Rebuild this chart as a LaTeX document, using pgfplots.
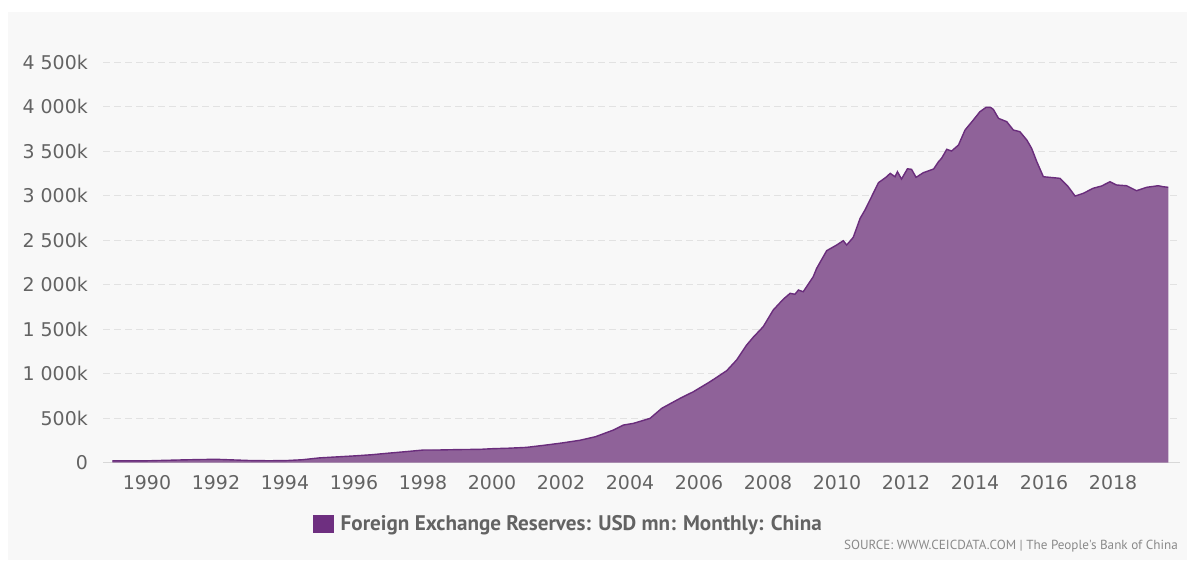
\documentclass[border=0pt]{standalone}
\usepackage{pgfplots}
\pgfplotsset{compat=1.18}
\usepackage{pgfplotstable}
\usepackage{fontspec}
\setmainfont{DejaVu Sans}
\newfontfamily\legfont{PT Sans}
\definecolor{bgpanel}{HTML}{F8F8F8}
\definecolor{gridgray}{HTML}{E2E2E2}
\definecolor{axisgray}{HTML}{D8D8D8}
\definecolor{tickgray}{HTML}{636363}
\definecolor{srcgray}{HTML}{8A8A8A}
\definecolor{fillpurple}{HTML}{8F6299}
\definecolor{linepurple}{HTML}{6A2D7C}
\definecolor{legendpurple}{HTML}{6E2F80}

\pgfplotstableread{
yr val
1989.00 18
1989.50 19
1990.00 19
1990.50 24
1991.00 29
1991.50 33
1992.00 36
1992.50 29
1993.00 22
1993.50 20
1994.00 21
1994.50 31
1995.00 52
1995.50 63
1996.00 74
1996.50 87
1997.00 105
1997.50 122
1998.00 140
1998.50 141
1999.00 145
1999.65 148
2000.00 155
2000.50 161
2001.00 170
2001.58 197
2002.00 218
2002.55 250
2003.00 290
2003.52 365
2003.81 421
2004.10 440
2004.58 496
2004.92 609
2005.45 721
2005.84 796
2006.32 908
2006.80 1031
2007.09 1152
2007.38 1320
2007.57 1407
2007.86 1526
2008.15 1713
2008.44 1834
2008.64 1901
2008.78 1890
2008.88 1938
2009.02 1919
2009.31 2088
2009.41 2182
2009.70 2380
2009.99 2444
2010.18 2492
2010.28 2444
2010.47 2530
2010.67 2744
2010.81 2837
2011.00 2986
2011.20 3144
2011.44 3211
2011.54 3249
2011.68 3211
2011.75 3267
2011.87 3185
2012.04 3300
2012.16 3294
2012.29 3204
2012.50 3256
2012.80 3298
2012.94 3380
2013.03 3418
2013.18 3519
2013.32 3500
2013.52 3567
2013.71 3736
2013.95 3848
2014.14 3941
2014.32 3991
2014.45 3990
2014.53 3968
2014.68 3867
2014.92 3829
2015.11 3736
2015.30 3717
2015.50 3624
2015.64 3530
2015.79 3380
2015.98 3211
2016.17 3204
2016.46 3193
2016.70 3099
2016.90 2994
2017.14 3025
2017.42 3081
2017.67 3107
2017.91 3155
2018.10 3118
2018.39 3110
2018.68 3054
2018.97 3092
2019.31 3110
2019.45 3099
2019.60 3092
}\reserves

\begin{document}
\begin{tikzpicture}[x=1bp,y=1bp]
\fill[white] (0,0) rectangle (1194,-565);
\fill[bgpanel] (8,-12) rectangle (1187,-560);
\begin{axis}[
  at={(103bp,-462.5bp)}, anchor=south west,
  width=1077bp, height=400.5bp, scale only axis,
  xmin=1988.725, xmax=2019.94, ymin=0, ymax=4500,
  axis x line*=bottom, axis y line*=left,
  x axis line style={draw=axisgray, line width=1bp},
  y axis line style={draw=none},
  major tick length=0pt,
  ytick={0,500,...,4500},
  yticklabels={0,500k,1 000k,1 500k,2 000k,2 500k,3 000k,3 500k,4 000k,4 500k},
  xtick={1990,1992,...,2018},
  xticklabels={1990,1992,1994,1996,1998,2000,2002,2004,2006,2008,2010,2012,2014,2016,2018},
  ymajorgrids,
  grid style={gridgray, line width=1bp, dash pattern=on 7bp off 4bp},
  tick label style={font=\fontsize{19}{19}\selectfont, text=tickgray},
  yticklabel style={anchor=east, inner sep=0pt, xshift=-15bp},
  xticklabel style={anchor=north, inner sep=0pt, yshift=-13bp},
  legend style={at={(0.432,-0.1536)}, anchor=center, draw=none, fill=none,
    font=\legfont\bfseries\fontsize{21.2}{21.2}\selectfont, text=tickgray,
    inner sep=0pt, cells={anchor=west}},
  legend image code/.code={\fill[legendpurple] (0bp,-9bp) rectangle (21bp,9bp); \path (26bp,0bp);},
]
\addplot[fill=fillpurple, draw=none] table[x=yr, y=val] {\reserves} \closedcycle;
\addlegendentry{Foreign Exchange Reserves: USD mn: Monthly: China}
\addplot[draw=linepurple, line width=1.4bp, forget plot] table[x=yr, y=val] {\reserves};
\end{axis}
\node[anchor=east, inner sep=0pt, font=\legfont\fontsize{13.2}{13.2}\selectfont, text=srcgray] at (1178,-546) {SOURCE: WWW.CEICDATA.COM | The People's Bank of China};
\pgfresetboundingbox
\path (0,0) rectangle (1194,-565);
\end{tikzpicture}
\end{document}
